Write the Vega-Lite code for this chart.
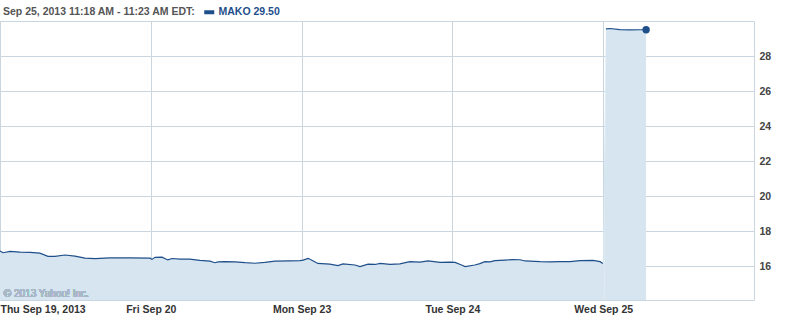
{
  "$schema": "https://vega.github.io/schema/vega-lite/v6.json",
  "width": 754,
  "height": 279,
  "autosize": {"type": "none"},
  "padding": {"left": 0, "top": 21, "right": 43, "bottom": 21},
  "background": "white",
  "config": {
    "view": {"stroke": "#c9d6e0", "strokeWidth": 1},
    "font": "Liberation Sans"
  },
  "data": {
    "values": [
      {"t": 0, "price": 16.86, "seg": "a", "sym": "MAKO"},
      {"t": 8, "price": 16.76, "seg": "a", "sym": "MAKO"},
      {"t": 26, "price": 16.84, "seg": "a", "sym": "MAKO"},
      {"t": 52, "price": 16.8, "seg": "a", "sym": "MAKO"},
      {"t": 78, "price": 16.78, "seg": "a", "sym": "MAKO"},
      {"t": 103, "price": 16.74, "seg": "a", "sym": "MAKO"},
      {"t": 124, "price": 16.55, "seg": "a", "sym": "MAKO"},
      {"t": 142, "price": 16.55, "seg": "a", "sym": "MAKO"},
      {"t": 168, "price": 16.63, "seg": "a", "sym": "MAKO"},
      {"t": 194, "price": 16.57, "seg": "a", "sym": "MAKO"},
      {"t": 220, "price": 16.45, "seg": "a", "sym": "MAKO"},
      {"t": 246, "price": 16.42, "seg": "a", "sym": "MAKO"},
      {"t": 284, "price": 16.47, "seg": "a", "sym": "MAKO"},
      {"t": 336, "price": 16.47, "seg": "a", "sym": "MAKO"},
      {"t": 388, "price": 16.45, "seg": "a", "sym": "MAKO"},
      {"t": 393, "price": 16.38, "seg": "a", "sym": "MAKO"},
      {"t": 401, "price": 16.5, "seg": "a", "sym": "MAKO"},
      {"t": 419, "price": 16.51, "seg": "a", "sym": "MAKO"},
      {"t": 434, "price": 16.35, "seg": "a", "sym": "MAKO"},
      {"t": 445, "price": 16.43, "seg": "a", "sym": "MAKO"},
      {"t": 466, "price": 16.4, "seg": "a", "sym": "MAKO"},
      {"t": 491, "price": 16.4, "seg": "a", "sym": "MAKO"},
      {"t": 517, "price": 16.32, "seg": "a", "sym": "MAKO"},
      {"t": 543, "price": 16.28, "seg": "a", "sym": "MAKO"},
      {"t": 556, "price": 16.19, "seg": "a", "sym": "MAKO"},
      {"t": 564, "price": 16.24, "seg": "a", "sym": "MAKO"},
      {"t": 582, "price": 16.25, "seg": "a", "sym": "MAKO"},
      {"t": 608, "price": 16.24, "seg": "a", "sym": "MAKO"},
      {"t": 634, "price": 16.19, "seg": "a", "sym": "MAKO"},
      {"t": 659, "price": 16.16, "seg": "a", "sym": "MAKO"},
      {"t": 685, "price": 16.21, "seg": "a", "sym": "MAKO"},
      {"t": 711, "price": 16.28, "seg": "a", "sym": "MAKO"},
      {"t": 750, "price": 16.3, "seg": "a", "sym": "MAKO"},
      {"t": 776, "price": 16.31, "seg": "a", "sym": "MAKO"},
      {"t": 784, "price": 16.34, "seg": "a", "sym": "MAKO"},
      {"t": 797, "price": 16.44, "seg": "a", "sym": "MAKO"},
      {"t": 809, "price": 16.3, "seg": "a", "sym": "MAKO"},
      {"t": 822, "price": 16.15, "seg": "a", "sym": "MAKO"},
      {"t": 853, "price": 16.11, "seg": "a", "sym": "MAKO"},
      {"t": 874, "price": 16.03, "seg": "a", "sym": "MAKO"},
      {"t": 887, "price": 16.12, "seg": "a", "sym": "MAKO"},
      {"t": 918, "price": 16.06, "seg": "a", "sym": "MAKO"},
      {"t": 931, "price": 15.97, "seg": "a", "sym": "MAKO"},
      {"t": 952, "price": 16.11, "seg": "a", "sym": "MAKO"},
      {"t": 970, "price": 16.09, "seg": "a", "sym": "MAKO"},
      {"t": 983, "price": 16.15, "seg": "a", "sym": "MAKO"},
      {"t": 1009, "price": 16.1, "seg": "a", "sym": "MAKO"},
      {"t": 1034, "price": 16.12, "seg": "a", "sym": "MAKO"},
      {"t": 1060, "price": 16.25, "seg": "a", "sym": "MAKO"},
      {"t": 1086, "price": 16.22, "seg": "a", "sym": "MAKO"},
      {"t": 1107, "price": 16.29, "seg": "a", "sym": "MAKO"},
      {"t": 1138, "price": 16.21, "seg": "a", "sym": "MAKO"},
      {"t": 1164, "price": 16.22, "seg": "a", "sym": "MAKO"},
      {"t": 1177, "price": 16.21, "seg": "a", "sym": "MAKO"},
      {"t": 1192, "price": 16.07, "seg": "a", "sym": "MAKO"},
      {"t": 1203, "price": 15.97, "seg": "a", "sym": "MAKO"},
      {"t": 1228, "price": 16.06, "seg": "a", "sym": "MAKO"},
      {"t": 1241, "price": 16.14, "seg": "a", "sym": "MAKO"},
      {"t": 1254, "price": 16.25, "seg": "a", "sym": "MAKO"},
      {"t": 1267, "price": 16.24, "seg": "a", "sym": "MAKO"},
      {"t": 1280, "price": 16.31, "seg": "a", "sym": "MAKO"},
      {"t": 1306, "price": 16.34, "seg": "a", "sym": "MAKO"},
      {"t": 1327, "price": 16.37, "seg": "a", "sym": "MAKO"},
      {"t": 1345, "price": 16.36, "seg": "a", "sym": "MAKO"},
      {"t": 1358, "price": 16.29, "seg": "a", "sym": "MAKO"},
      {"t": 1397, "price": 16.25, "seg": "a", "sym": "MAKO"},
      {"t": 1422, "price": 16.24, "seg": "a", "sym": "MAKO"},
      {"t": 1448, "price": 16.25, "seg": "a", "sym": "MAKO"},
      {"t": 1474, "price": 16.25, "seg": "a", "sym": "MAKO"},
      {"t": 1500, "price": 16.31, "seg": "a", "sym": "MAKO"},
      {"t": 1534, "price": 16.32, "seg": "a", "sym": "MAKO"},
      {"t": 1552, "price": 16.25, "seg": "a", "sym": "MAKO"},
      {"t": 1559, "price": 16.15, "seg": "a", "sym": "MAKO"},
      {"t": 1567, "price": 29.55, "seg": "b", "sym": "MAKO"},
      {"t": 1578, "price": 29.57, "seg": "b", "sym": "MAKO"},
      {"t": 1603, "price": 29.51, "seg": "b", "sym": "MAKO"},
      {"t": 1629, "price": 29.49, "seg": "b", "sym": "MAKO"},
      {"t": 1655, "price": 29.5, "seg": "b", "sym": "MAKO"},
      {"t": 1671, "price": 29.5, "seg": "b", "sym": "MAKO"}
    ]
  },
  "encoding": {
    "x": {
      "field": "t",
      "type": "quantitative",
      "scale": {"domain": [0, 1950], "nice": false, "zero": false},
      "axis": {
        "title": null,
        "values": [0, 390, 780, 1170, 1560],
        "labelExpr": "datum.value == 0 ? 'Thu Sep 19, 2013' : datum.value == 390 ? 'Fri Sep 20' : datum.value == 780 ? 'Mon Sep 23' : datum.value == 1170 ? 'Tue Sep 24' : 'Wed Sep 25'",
        "labelFlush": true,
        "labelFont": "Liberation Sans",
        "labelFontWeight": "bold",
        "labelFontSize": 10.5,
        "labelColor": "#333333",
        "labelPadding": 4,
        "ticks": false,
        "domain": false,
        "grid": true,
        "gridColor": "#c9d6e0",
        "gridOpacity": 1
      }
    },
    "y": {
      "field": "price",
      "type": "quantitative",
      "scale": {"domain": [14.06, 30], "nice": false, "zero": false},
      "axis": {
        "title": null,
        "orient": "right",
        "values": [16, 18, 20, 22, 24, 26, 28],
        "labelFont": "Liberation Sans",
        "labelFontWeight": "bold",
        "labelFontSize": 10.5,
        "labelColor": "#444444",
        "labelPadding": 5,
        "ticks": false,
        "domain": false,
        "grid": true,
        "gridColor": "#c9d6e0",
        "gridOpacity": 1
      }
    }
  },
  "layer": [
    {
      "mark": {"type": "area", "color": "#d6e5f0", "clip": true},
      "encoding": {"detail": {"field": "seg", "type": "nominal"}}
    },
    {
      "mark": {"type": "line", "strokeWidth": 1.2, "clip": true},
      "encoding": {
        "detail": {"field": "seg", "type": "nominal"},
        "color": {
          "field": "sym",
          "type": "nominal",
          "scale": {"range": ["#1f4f8a"]},
          "legend": {
            "orient": "none",
            "legendX": 3,
            "legendY": -14,
            "title": "Sep 25, 2013 11:18 AM - 11:23 AM EDT:",
            "titleOrient": "left",
            "titleFont": "Liberation Sans",
            "titleFontWeight": "bold",
            "titleFontSize": 10.5,
            "titleColor": "#555555",
            "titleLimit": 400,
            "titlePadding": 8,
            "titleBaseline": "middle",
            "labelExpr": "datum.label + ' 29.50'",
            "labelFont": "Liberation Sans",
            "labelFontWeight": "bold",
            "labelFontSize": 10.5,
            "labelColor": "#1f4f8a",
            "labelOffset": 4,
            "symbolType": "M-1,-0.4H1V0.4H-1Z",
            "symbolSize": 100,
            "symbolFillColor": "#1f4f8a",
            "symbolStrokeWidth": 0,
            "padding": 0
          }
        }
      }
    },
    {
      "transform": [{"filter": "datum.t == 1671"}],
      "mark": {"type": "point", "filled": true, "size": 55, "color": "#1f4f8a", "opacity": 1}
    },
    {
      "mark": {
        "type": "text",
        "text": "© 2013 Yahoo! Inc.",
        "align": "left",
        "baseline": "middle",
        "font": "Liberation Sans",
        "fontSize": 10,
        "color": "#a9b8c7"
      },
      "encoding": {
        "x": {"datum": 10},
        "y": {"datum": 14.43}
      }
    }
  ]
}
